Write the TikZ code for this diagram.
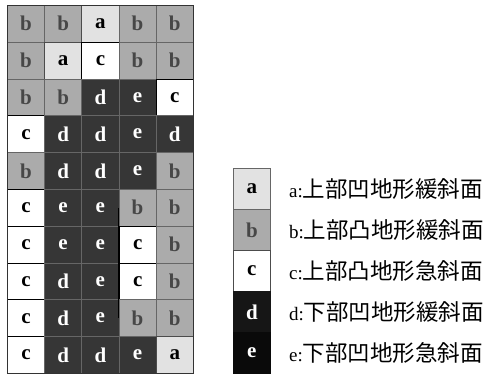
\documentclass[tikz,border=0pt]{standalone}
\usepackage{fontspec}
\setmainfont{Liberation Serif}
\newfontfamily\cjk{Noto Sans CJK JP}
\definecolor{ca}{HTML}{E2E2E2}
\definecolor{cb}{HTML}{ABABAB}
\definecolor{cd}{HTML}{363636}
\definecolor{ldk}{HTML}{161616}
\definecolor{lek}{HTML}{0A0A0A}
\tikzset{
  cellbase/.style={minimum width=37.2pt,minimum height=36.8pt,inner sep=0pt,anchor=north west,
    font=\fontsize{21}{21}\selectfont\bfseries, line width=0.7pt},
  cella/.style={cellbase,fill=ca,draw=black!70,text=black},
  cellb/.style={cellbase,fill=cb,draw=black!60,text=black!72},
  cellc/.style={cellbase,fill=white,draw=black,line width=1pt,text=black},
  celld/.style={cellbase,fill=cd,draw=black!60,text=white},
  celle/.style={cellbase,fill=cd,draw=black!60,text=white},
  legbox/.style={minimum width=37pt,minimum height=41pt,inner sep=0pt,anchor=north west,
    font=\fontsize{21}{21}\selectfont\bfseries,line width=0.7pt},
  leglabel/.style={anchor=west,inner sep=0pt,font=\fontsize{20}{22}\selectfont}
}
\newcommand{\legtext}[2]{{\fontsize{19}{20}\selectfont #1:}{\cjk\fontsize{22.5}{23}\selectfont #2}}
\begin{document}
\begin{tikzpicture}[x=1pt,y=-1pt]
\useasboundingbox (0,0) rectangle (491,378);
\fill[white] (0,0) rectangle (491,378);
\foreach \r/\row in {1/{b,b,a,b,b},2/{b,a,c,b,b},3/{b,b,d,e,c},4/{c,d,d,e,d},5/{b,d,d,e,b},
  6/{c,e,e,b,b},7/{c,e,e,c,b},8/{c,d,e,c,b},9/{c,d,e,b,b},10/{c,d,d,e,a}}{
  \foreach \t [count=\c] in \row {
    \node[cell\t] (c-\r-\c) at ({7+(\c-1)*37.2},{5+(\r-1)*36.8}) {\t};
  }
}
\draw[line width=0.8pt,black!80] (c-1-1.north west) rectangle (c-10-5.south east);
\draw[line width=1.6pt,black] (c-6-4.west) -- (c-9-4.west);
% legend
\node[legbox,fill=ca,draw=black!60,text=black] (l-a) at (233,168) {a};
\node[legbox,fill=cb,draw=black!60,text=black!72] (l-b) at (233,209) {b};
\node[legbox,fill=white,draw=black!70,text=black] (l-c) at (233,250) {c};
\node[legbox,fill=ldk,draw=ldk,text=white] (l-d) at (233,291) {d};
\node[legbox,fill=lek,draw=lek,text=white] (l-e) at (233,332) {e};
\coordinate (tx) at (289,0);
\node[leglabel] (t-a) at (l-a.center -| tx) {\legtext{a}{上部凹地形緩斜面}};
\node[leglabel] (t-b) at (l-b.center -| tx) {\legtext{b}{上部凸地形緩斜面}};
\node[leglabel] (t-c) at (l-c.center -| tx) {\legtext{c}{上部凸地形急斜面}};
\node[leglabel] (t-d) at (l-d.center -| tx) {\legtext{d}{下部凹地形緩斜面}};
\node[leglabel] (t-e) at (l-e.center -| tx) {\legtext{e}{下部凹地形急斜面}};
\end{tikzpicture}
\end{document}
